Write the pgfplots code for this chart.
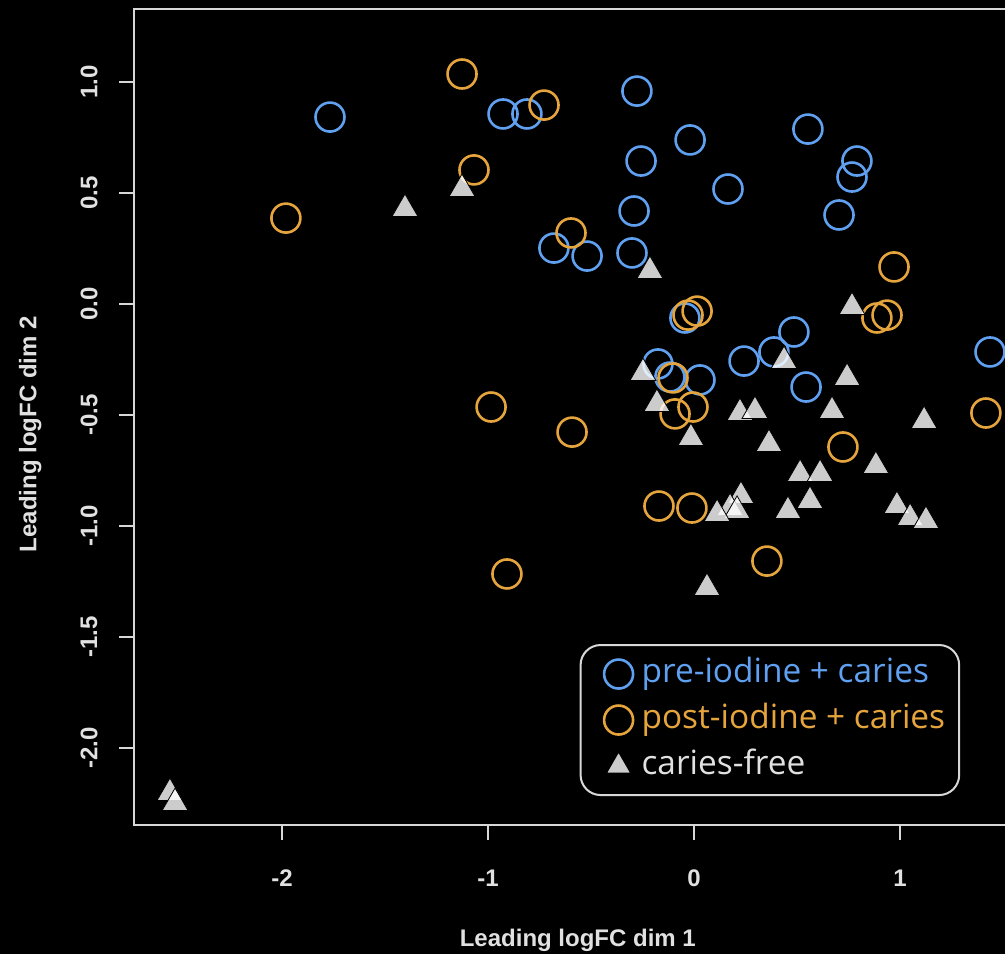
\documentclass[border=0pt]{standalone}
\usepackage{pgfplots}
\pgfplotsset{compat=1.18}
\usepackage{fontspec}
\setmainfont{Liberation Sans}
\newfontfamily\legfont{Open Sans}
\definecolor{preblue}{RGB}{95,160,240}
\definecolor{postorange}{RGB}{230,165,60}
\definecolor{axgray}{RGB}{215,215,215}
\definecolor{txtgray}{RGB}{225,225,225}
\begin{document}
\begin{tikzpicture}
\path[use as bounding box, fill=black] (-347pt,-325pt) rectangle (155.5pt,152pt);
\begin{axis}[
  at={(0,0)}, anchor=origin,
  x=103pt, y=111pt,
  xmin=-2.718, xmax=1.59, ymin=-2.347, ymax=1.329,
  axis line style={axgray, line width=1.4pt},
  major tick style={axgray, line width=1.4pt},
  tick align=outside, major tick length=7.5pt,
  xtick pos=bottom, ytick pos=left,
  xtick={-2,-1,0,1}, ytick={-2,-1.5,-1,-0.5,0,0.5,1},
  tick label style={font=\fontsize{12}{14}\selectfont\bfseries, text=txtgray},
  /pgf/number format/assume math mode=true,
  xticklabel style={anchor=center, yshift=-19pt},
  yticklabel style={anchor=center, rotate=90, /pgf/number format/.cd, fixed, fixed zerofill, precision=1},
  yticklabel shift=15pt,
  xlabel={Leading logFC dim 1}, ylabel={Leading logFC dim 2},
  label style={font=\fontsize{12}{14}\selectfont\bfseries, text=txtgray},
  xlabel style={at={(axis description cs:0.5,-0.141)}, anchor=center},
  ylabel style={at={(axis description cs:-0.117,0.479)}, anchor=center},
  legend image code/.code={\path (0pt,0pt) (19.5pt,0pt); \draw[#1] plot coordinates {(11.5pt,0pt)};},
  legend style={at={(axis description cs:0.502,0.2218)}, anchor=north west,
    draw=axgray, line width=1pt, rounded corners=10pt, fill=black,
    font=\legfont\fontsize{16.7}{20}\selectfont,
    inner xsep=7pt, inner ysep=6.5pt, row sep=7pt,
    nodes={inner sep=0pt, text height=12pt, text depth=4pt},
    /tikz/every odd column/.append style={column sep=3pt}},
  legend cell align=left,
]
\addplot[only marks, mark=o, mark size=7.25pt, mark options={draw=preblue, line width=1.3pt}] coordinates {
(-1.767,0.842) (-0.927,0.856) (-0.811,0.856) (-0.277,0.959) (-0.257,0.644)
(-0.291,0.419) (-0.680,0.252) (-0.519,0.216) (-0.301,0.230) (-0.019,0.739)
(0.165,0.518) (0.553,0.788) (0.791,0.644) (0.767,0.572) (0.704,0.401)
(-0.044,-0.063) (0.485,-0.126) (-0.175,-0.270) (-0.117,-0.329) (0.029,-0.342)
(0.243,-0.257) (0.388,-0.216) (0.544,-0.374) (1.437,-0.216)
};
\addlegendentry{\textcolor{preblue}{pre-iodine + caries}}
\addplot[only marks, mark=o, mark size=7.25pt, mark options={draw=postorange, line width=1.3pt}] coordinates {
(-1.981,0.387) (-1.126,1.036) (-0.728,0.896) (-1.068,0.604) (-0.597,0.320)
(-0.029,-0.050) (0.015,-0.032) (0.971,0.167) (0.888,-0.063) (0.937,-0.050)
(-0.102,-0.333) (-0.092,-0.495) (-0.005,-0.464) (-0.592,-0.577) (0.723,-0.644)
(1.417,-0.491) (-0.170,-0.910) (-0.010,-0.919) (0.354,-1.158) (-0.985,-0.464)
(-0.908,-1.216)
};
\addlegendentry{\textcolor{postorange}{post-iodine + caries}}
\addplot[only marks, mark=triangle*, mark size=7.5pt, mark options={draw=none, fill=white, fill opacity=0.8}] coordinates {
(-1.403,0.428) (-1.126,0.518) (-0.214,0.149) (0.767,-0.014) (-0.248,-0.311)
(0.437,-0.257) (0.743,-0.333) (-0.180,-0.450) (0.223,-0.491) (0.296,-0.482)
(0.670,-0.482) (1.117,-0.527) (-0.015,-0.604) (0.364,-0.631) (0.515,-0.766)
(0.612,-0.766) (0.883,-0.730) (0.228,-0.865) (0.175,-0.919) (0.209,-0.932)
(0.112,-0.946) (0.456,-0.932) (0.563,-0.887) (0.985,-0.910) (1.049,-0.964)
(1.126,-0.977) (0.063,-1.279) (-2.544,-2.203) (-2.519,-2.248)
};
\addlegendentry{\textcolor{txtgray}{caries-free}}
\end{axis}
\end{tikzpicture}
\end{document}
